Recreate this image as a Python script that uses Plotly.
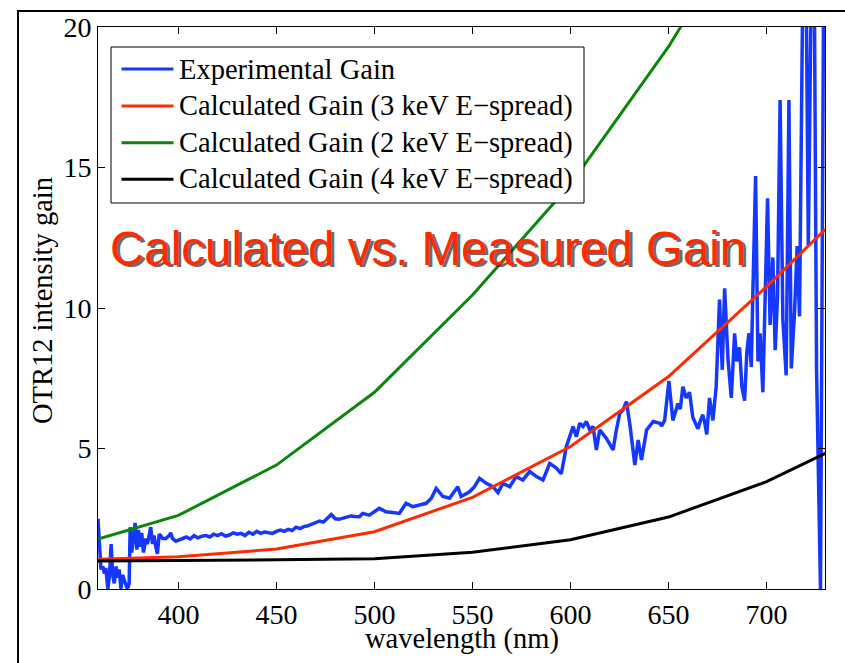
import plotly.graph_objects as go

# ---------------- data ----------------
calc_wl = [359, 400, 450, 500, 550, 600, 650, 700, 730]
gain_3kev = [1.06, 1.15, 1.42, 2.04, 3.26, 5.07, 7.56, 10.76, 12.8]
gain_2kev = [1.78, 2.62, 4.41, 7.0, 10.46, 14.4, 19.3, 25.0, 29.0]
gain_4kev = [1.0, 1.01, 1.04, 1.08, 1.31, 1.75, 2.56, 3.82, 4.83]

exp_wl = [
    359.0, 359.8, 360.5, 361.5, 362.3, 363.0, 364.0, 364.8, 365.7, 366.5,
    367.3, 368.2, 369.0, 369.8, 370.7, 371.5, 372.4, 373.2, 374.0, 374.9,
    375.4, 376.2, 377.1, 377.9, 378.8, 379.6, 380.5, 381.3, 382.2, 383.4,
    384.2, 385.1, 385.9, 386.8, 387.6, 388.5, 389.3, 390.2, 391.0, 391.9,
    393.6, 395.3, 396.1, 397.0, 397.8, 398.7, 400.4,
    402, 404, 406, 408, 410, 412, 414, 416, 418, 420,
    422, 424, 426, 428, 430, 432, 434, 436, 438, 440,
    442, 444, 446, 448, 450, 452, 454, 456, 458, 460,
    462, 464, 466, 468, 470, 472, 474, 476, 478, 480,
    482, 484, 486, 488, 490,
    492.3, 494.0, 497.4, 502.5, 505.9, 509.3, 512.7, 516.1, 519.5, 523.0,
    526.4, 529.0, 531.5, 534.9, 538.3, 542.5, 544.2, 548.5, 551.0, 553.6,
    557.0, 560.4, 563.0, 565.5, 569.0, 572.3, 575.7, 579.2, 582.6, 586.0,
    589.4, 592.8, 595.3, 597.9, 601.3, 603.0, 604.7, 606.4, 608.1, 609.8,
    611.5, 613.2, 614.9, 618.3, 621.7, 623.4, 625.1, 626.8, 628.5, 630.2,
    632.8, 634.5, 636.2, 638.8, 642.2, 645.6,
    646.5, 648.0, 650.2, 652.2, 653.5, 654.8, 656.0, 657.3, 659.0, 660.7,
    662.4, 663.5, 665.0, 666.3, 667.5, 668.5, 669.5, 670.9, 672.6, 674.3,
    676.0, 677.4, 678.6, 680.3, 682.0, 683.7, 684.8, 686.2, 687.4, 688.8,
    689.9, 691.0, 692.2, 693.0, 694.4, 695.6, 696.7, 698.1, 699.1, 700.5,
    701.8, 703.2, 704.4, 705.6, 706.9, 708.3, 710.0, 711.4, 712.6, 714.3,
    715.6, 716.8, 719.4, 721.3, 723.8, 725.5, 727.5, 729.6,
]
exp_gain = [
    2.5, 1.2, 0.7, 0.8, 0.55, 0.75, 0.0, 0.45, 1.6, 0.5,
    0.2, 0.8, 0.4, 0.7, 0.0, 0.5, 0.3, 0.1, 0.0, 0.2,
    2.2, 1.3, 1.9, 2.35, 1.4, 2.1, 1.5, 2.0, 1.3, 1.8,
    1.6, 2.0, 2.2, 1.6, 1.9, 1.5, 1.25, 1.95, 1.9, 1.8,
    1.8, 1.9, 2.0, 1.8, 1.75, 1.7, 1.75,
    1.8, 1.85, 1.78, 1.9, 1.82, 1.88, 1.9, 1.85, 1.95, 1.9,
    1.97, 1.88, 1.92, 2.0, 1.95, 1.98, 1.9, 2.02, 1.95, 2.05,
    1.98, 2.03, 2.0, 1.98, 2.05, 2.1, 2.05, 2.12, 2.08, 2.2,
    2.15, 2.22, 2.25, 2.3, 2.35, 2.42, 2.38, 2.5, 2.65, 2.5,
    2.48, 2.52, 2.55, 2.6, 2.58,
    2.57, 2.69, 2.63, 2.87, 2.75, 2.72, 2.69, 3.05, 2.93, 2.99,
    3.05, 3.23, 3.58, 3.29, 3.23, 3.64, 3.29, 3.46, 3.64, 3.94,
    3.76, 3.64, 3.43, 3.76, 3.64, 4.0, 3.88, 4.18, 4.0, 3.88,
    4.47, 4.3, 4.1, 5.07, 5.78, 5.42, 5.9, 5.78, 5.96, 5.66,
    5.78, 4.95, 5.66, 5.36, 4.95, 5.66, 6.25, 6.37, 6.67, 5.9,
    4.41, 5.3, 4.59, 5.66, 5.96, 5.9,
    5.8, 6.0, 7.4, 6.0, 6.3, 6.6, 6.4, 7.2, 6.8, 7.0,
    6.1, 5.9, 5.7, 6.0, 6.2, 5.9, 5.5, 6.8, 6.0, 7.2,
    10.3, 7.8, 10.7, 8.2, 6.8, 9.1, 8.1, 8.6, 7.2, 6.7,
    8.4, 9.1, 7.9, 10.5, 14.7, 8.1, 9.1, 7.0, 9.9, 13.9,
    9.4, 11.8, 8.5, 10.4, 17.4, 9.6, 7.6, 17.4, 7.85, 9.9,
    12.2, 9.7, 28.0, 12.2, 28.0, 7.8, 0.0, 28.0,
]

x_ticks = [400, 450, 500, 550, 600, 650, 700]
y_ticks = [0, 5, 10, 15, 20]

series_names = [
    "Experimental Gain",
    "Calculated Gain (3 keV E\u2212spread)",
    "Calculated Gain (2 keV E\u2212spread)",
    "Calculated Gain (4 keV E\u2212spread)",
]
series_colors = ["#1438ff", "#ff2a00", "#0a870a", "#000000"]
title_text = "Calculated vs. Measured Gain"
x_title = "wavelength (nm)"
y_title = "OTR12 intensity gain"

# ---------------- layout geometry (pixels) ----------------
W, H = 845, 663
L, R, T, B = 98, 825, 27, 589


def px(x):
    return (x - L) / (R - L)


def py(y):
    return (B - y) / (B - T)


SERIF = "Liberation Serif, Times New Roman, serif"
SANS = "Liberation Sans, Arial, sans-serif"

fig = go.Figure()
fig.add_trace(go.Scatter(x=exp_wl, y=exp_gain, mode="lines",
                         line=dict(color=series_colors[0], width=3.5),
                         name=series_names[0], showlegend=False))
fig.add_trace(go.Scatter(x=calc_wl, y=gain_3kev, mode="lines",
                         line=dict(color=series_colors[1], width=3),
                         name=series_names[1], showlegend=False))
fig.add_trace(go.Scatter(x=calc_wl, y=gain_2kev, mode="lines",
                         line=dict(color=series_colors[2], width=3),
                         name=series_names[2], showlegend=False))
fig.add_trace(go.Scatter(x=calc_wl, y=gain_4kev, mode="lines",
                         line=dict(color=series_colors[3], width=3),
                         name=series_names[3], showlegend=False))

shapes = []
annotations = []

# outer frame (slide border)
shapes.append(dict(type="rect", xref="paper", yref="paper",
                   x0=px(18), x1=px(860), y0=py(680), y1=py(11),
                   line=dict(color="black", width=2), layer="above"))

# legend box
leg_left, leg_right, leg_top, leg_bottom = 111, 584, 47, 203
shapes.append(dict(type="rect", xref="paper", yref="paper",
                   x0=px(leg_left), x1=px(leg_right), y0=py(leg_bottom), y1=py(leg_top),
                   line=dict(color="black", width=1), fillcolor="white", layer="above"))
row_y = [69, 106, 142.7, 179.3]
for name, color, yy in zip(series_names, series_colors, row_y):
    shapes.append(dict(type="line", xref="paper", yref="paper",
                       x0=px(121.5), x1=px(173.5), y0=py(yy), y1=py(yy),
                       line=dict(color=color, width=3), layer="above"))
    annotations.append(dict(xref="paper", yref="paper", x=px(177), y=py(yy),
                            xanchor="left", yanchor="middle", showarrow=False,
                            text=name, font=dict(family=SERIF, size=28.5, color="black")))

# axis titles
annotations.append(dict(xref="paper", yref="paper", x=px(462), y=py(639),
                        xanchor="center", yanchor="middle", showarrow=False,
                        text=x_title, font=dict(family=SERIF, size=28.5, color="black")))
annotations.append(dict(xref="paper", yref="paper", x=px(42), y=py(301),
                        xanchor="center", yanchor="middle", showarrow=False, textangle=-90,
                        text=y_title, font=dict(family=SERIF, size=28.5, color="black")))

# big title with drop shadow
tx, ty = 428, 248
annotations.append(dict(xref="paper", yref="paper", x=px(tx), y=py(ty),
                        xanchor="center", yanchor="middle", showarrow=False,
                        xshift=2.5, yshift=-2.5,
                        text=title_text, font=dict(family=SANS, size=47.5, color="rgba(40,40,40,0.7)")))
annotations.append(dict(xref="paper", yref="paper", x=px(tx), y=py(ty),
                        xanchor="center", yanchor="middle", showarrow=False,
                        text=title_text, font=dict(family=SANS, size=47.5, color="#ff2a00")))

axis_common = dict(showline=True, linecolor="black", linewidth=1, mirror="ticks",
                   ticks="inside", ticklen=7, tickcolor="black", tickwidth=1,
                   showgrid=False, zeroline=False,
                   tickfont=dict(family=SERIF, size=28, color="black"))

fig.update_layout(
    width=W, height=H,
    margin=dict(l=L, r=W - R, t=T, b=H - B, pad=0),
    paper_bgcolor="white", plot_bgcolor="white",
    showlegend=False,
    xaxis=dict(range=[359, 729.8], tickvals=x_ticks, **axis_common),
    yaxis=dict(range=[0, 20], tickvals=y_ticks, **axis_common),
    shapes=shapes,
    annotations=annotations,
)

fig.write_html("out.html")
